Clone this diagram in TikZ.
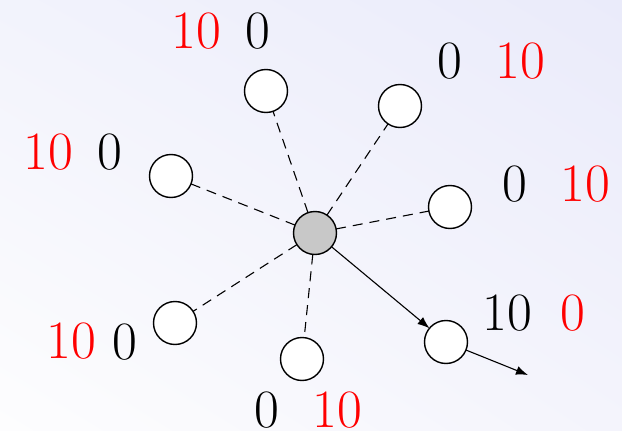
\documentclass[tikz,border=0pt]{standalone}
\usepackage{fontspec}
\usetikzlibrary{arrows.meta,shadings}
\definecolor{bgUR}{RGB}{234,235,250}
\definecolor{bgUL}{RGB}{242,243,252}
\definecolor{bgLR}{RGB}{244,244,252}
\definecolor{bgLL}{RGB}{253,253,254}
\definecolor{hubgray}{RGB}{200,200,200}
\begin{document}
\begin{tikzpicture}[x=1pt,y=-1pt,
  nd/.style={circle,draw=black,line width=1.4pt,fill=white,minimum size=43pt,inner sep=0pt,outer sep=0pt},
  hub/.style={nd,fill=hubgray},
  lbl/.style={inner sep=0pt,anchor=center,font=\fontsize{54}{60}\selectfont},
  rl/.style={lbl,text=red},
  bl/.style={lbl,text=black},
  dsh/.style={line width=1.1pt,dash pattern=on 10pt off 7pt},
  arr/.style={line width=1.1pt,-{Latex[length=12pt,width=9pt]}}]
\useasboundingbox (0,0) rectangle (622,431);
\shade[upper right=bgUR,upper left=bgUL,lower right=bgLR,lower left=bgLL]
  (0,0) rectangle (622,431);
\node[hub] (c) at (315,233) {};
\node[nd] (n1) at (266,91) {};
\node[nd] (n2) at (400,106) {};
\node[nd] (n3) at (171,176) {};
\node[nd] (n4) at (450,207) {};
\node[nd] (n5) at (175,323) {};
\node[nd] (n6) at (302,359) {};
\node[nd] (n7) at (446,342) {};
\coordinate (e) at (528,375);
\draw[dsh] (c) -- (n1);
\draw[dsh] (c) -- (n2);
\draw[dsh] (c) -- (n3);
\draw[dsh] (c) -- (n4);
\draw[dsh] (c) -- (n5);
\draw[dsh] (c) -- (n6);
\draw[arr] (c) -- (n7);
\draw[arr] (n7) -- (e);
\node[rl] (t1a) at (196,31) {10};
\node[bl] (t1b) at (258,31) {0};
\node[bl] (t2a) at (450,61) {0};
\node[rl] (t2b) at (520,61) {10};
\node[rl] (t3a) at (48,152) {10};
\node[bl] (t3b) at (110,152) {0};
\node[bl] (t4a) at (515,184) {0};
\node[rl] (t4b) at (585,184) {10};
\node[bl] (t7a) at (507,313) {10};
\node[rl] (t7b) at (573,313) {0};
\node[rl] (t5a) at (71,341) {10};
\node[bl] (t5b) at (125,342) {0};
\node[bl] (t6a) at (267,410) {0};
\node[rl] (t6b) at (337,410) {10};
\end{tikzpicture}
\end{document}
